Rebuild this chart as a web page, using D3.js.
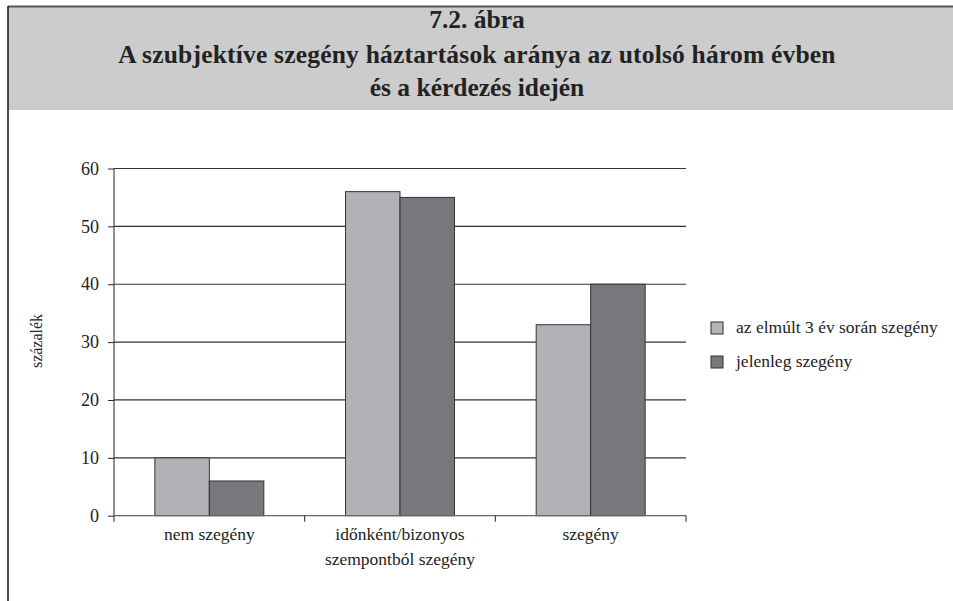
<!DOCTYPE html>
<html><head><meta charset="utf-8">
<script src="https://cdn.jsdelivr.net/npm/d3@7"></script>
<style>
html,body{margin:0;padding:0;background:#fff;}
svg{display:block;}
text{font-family:"Liberation Serif","Times New Roman",serif;fill:#222;}
</style></head>
<body>
<svg id="chart" width="953" height="601"></svg>
<script>
const titleLines = ["7.2. ábra", "A szubjektíve szegény háztartások aránya az utolsó három évben", "és a kérdezés idején"];
const categories = ["nem szegény", "időnként/bizonyos\nszempontból szegény", "szegény"];
const seriesNames = ["az elmúlt 3 év során szegény", "jelenleg szegény"];
const seriesPast = [10, 56, 33];
const seriesNow = [6, 55, 40];
const yTicks = [0, 10, 20, 30, 40, 50, 60];
const yLabel = "százalék";
const colors = ["#b1b2b6", "#77787c"];

const svg = d3.select("#chart");
const W = 953, H = 601;

// frame and title band
svg.append("rect").attr("x", 8).attr("y", 7).attr("width", W - 8).attr("height", 103).attr("fill", "#cccccc");
svg.append("line").attr("x1", 8).attr("x2", W).attr("y1", 6.5).attr("y2", 6.5).attr("stroke", "#555").attr("stroke-width", 2);
svg.append("line").attr("x1", 8).attr("x2", 8).attr("y1", 6).attr("y2", H).attr("stroke", "#111").attr("stroke-width", 1.5);

const titleY = [28, 63, 96];
titleLines.forEach((t, i) => {
  svg.append("text").attr("x", 477).attr("y", titleY[i]).attr("text-anchor", "middle")
    .attr("font-weight", "bold").attr("font-size", 25.5).attr("fill", "#111")
    .attr("letter-spacing", i === 1 ? 0.2 : 0).text(t);
});

const x0 = 114, x1 = 686, yTop = 168.5, yBot = 515.7;
const x = d3.scaleBand().domain(categories).range([x0, x1]).padding(0);
const xs = d3.scaleBand().domain(seriesNames).range([0, x.bandwidth()]).paddingInner(0).paddingOuter(0.75);
const y = d3.scaleLinear().domain([0, 60]).range([yBot, yTop]);

// gridlines
svg.append("g").selectAll("line").data(yTicks.filter(d => d > 0)).join("line")
  .attr("x1", x0).attr("x2", x1).attr("y1", d => y(d)).attr("y2", d => y(d))
  .attr("stroke", "#333").attr("stroke-width", 1.2);

// y axis
const yAxis = d3.axisLeft(y).tickValues(yTicks).tickSize(6).tickPadding(9).tickFormat(d3.format("d"));
const gy = svg.append("g").attr("transform", `translate(${x0},0)`).call(yAxis);
gy.select(".domain").remove();
gy.selectAll(".tick line").attr("stroke", "#222");
gy.selectAll(".tick text").attr("font-size", 18).attr("fill", "#222");
svg.append("line").attr("x1", x0).attr("x2", x0).attr("y1", yTop).attr("y2", yBot + 6).attr("stroke", "#222");

// bars
const data = categories.map((c, i) => ({ c, vals: [seriesPast[i], seriesNow[i]] }));
const groups = svg.append("g").selectAll("g").data(data).join("g")
  .attr("transform", d => `translate(${x(d.c)},0)`);
groups.selectAll("rect").data(d => d.vals.map((v, j) => ({ v, s: seriesNames[j], j }))).join("rect")
  .attr("x", d => xs(d.s)).attr("width", xs.bandwidth())
  .attr("y", d => y(d.v)).attr("height", d => y(0) - y(d.v))
  .attr("fill", d => colors[d.j]).attr("stroke", "#333").attr("stroke-width", 1);

// x axis baseline
svg.append("line").attr("x1", x0).attr("x2", x1).attr("y1", yBot).attr("y2", yBot).attr("stroke", "#666").attr("stroke-width", 1.2);
// category ticks
const bounds = categories.map(c => x(c) + x.bandwidth());
svg.append("g").selectAll("line").data(bounds).join("line")
  .attr("x1", d => d).attr("x2", d => d).attr("y1", yBot).attr("y2", yBot + 6).attr("stroke", "#222");

// category labels
categories.forEach(c => {
  const lines = c.split("\n");
  const t = svg.append("text").attr("text-anchor", "middle").attr("font-size", 17.5)
    .attr("x", x(c) + x.bandwidth() / 2).attr("y", 540);
  lines.forEach((l, k) => t.append("tspan").attr("x", x(c) + x.bandwidth() / 2).attr("dy", k === 0 ? 0 : 25).text(l));
});

// y label
svg.append("text").attr("transform", "translate(42,341) rotate(-90)").attr("text-anchor", "middle")
  .attr("font-size", 16).text(yLabel);

// legend
const legY = [322, 356];
seriesNames.forEach((s, i) => {
  svg.append("rect").attr("x", 711).attr("y", legY[i]).attr("width", 12).attr("height", 12)
    .attr("fill", colors[i]).attr("stroke", "#333");
  svg.append("text").attr("x", 736).attr("y", legY[i] + 11).attr("font-size", 17.5).text(s);
});
</script>
</body></html>
